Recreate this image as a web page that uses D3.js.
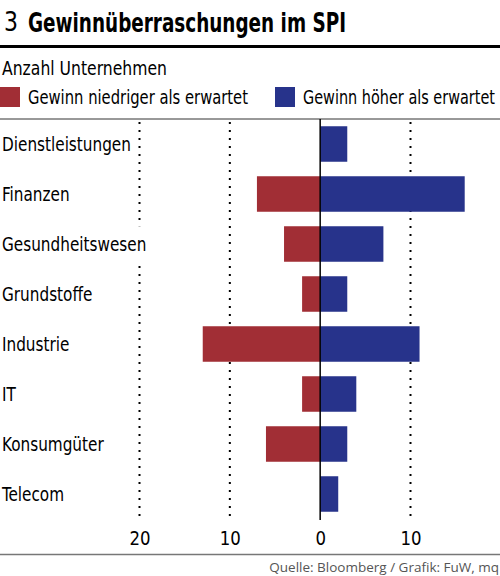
<!DOCTYPE html>
<html>
<head>
<meta charset="utf-8">
<script src="https://cdn.jsdelivr.net/npm/d3@7"></script>
<style>
  body { margin: 0; background: #fff; }
  svg { display: block; }
  .cond { font-family: "Liberation Sans Narrow", "DejaVu Sans Condensed", "DejaVu Sans", sans-serif; font-stretch: condensed; }
</style>
</head>
<body>
<svg id="chart" width="500" height="576"></svg>
<script>
const svg = d3.select("#chart");

const width = 500;
const height = 576;

// data
const categories = ["Dienstleistungen", "Finanzen", "Gesundheitswesen", "Grundstoffe",
                    "Industrie", "IT", "Konsumgüter", "Telecom"];
const lower = [0, 7, 4, 2, 13, 2, 6, 0];     // Gewinn niedriger als erwartet
const higher = [3, 16, 7, 3, 11, 4, 3, 2];   // Gewinn höher als erwartet
const tickValues = [-20, -10, 0, 10];
const seriesNames = ["Gewinn niedriger als erwartet", "Gewinn höher als erwartet"];

const RED = "#a12e35";
const BLUE = "#27338b";

// squeeze a text horizontally, the reference font is narrower
function squeeze(sel, k) {
  sel.each(function() {
    const w = this.getComputedTextLength();
    d3.select(this)
        .attr("textLength", w * k)
        .attr("lengthAdjust", "spacingAndGlyphs");
  });
}

const x = d3.scaleLinear()
    .domain([-20, 10])
    .range([139.5, 410.5]);

const y = d3.scaleBand()
    .domain(categories)
    .range([119, 519])
    .paddingInner(0.29)
    .paddingOuter(0.145);

// header
svg.append("text")
    .attr("class", "cond")
    .attr("x", 4).attr("y", 31)
    .attr("font-size", 26)
    .attr("textLength", 14)
    .attr("lengthAdjust", "spacingAndGlyphs")
    .text("3");
svg.append("text")
    .attr("class", "cond")
    .attr("x", 28).attr("y", 32)
    .attr("font-size", 27)
    .attr("font-weight", "bold")
    .attr("textLength", 318)
    .attr("lengthAdjust", "spacingAndGlyphs")
    .text("Gewinnüberraschungen im SPI");
svg.append("rect")
    .attr("x", 0).attr("y", 45)
    .attr("width", width).attr("height", 3)
    .attr("fill", "#000");

svg.append("text")
    .attr("class", "cond")
    .attr("x", 2).attr("y", 75)
    .attr("font-size", 19)
    .attr("textLength", 165)
    .attr("lengthAdjust", "spacingAndGlyphs")
    .text("Anzahl Unternehmen");

// legend
const legendX = [0, 275];
const legendLen = [220, 192];
[RED, BLUE].forEach((c, i) => {
  svg.append("rect")
      .attr("x", legendX[i]).attr("y", 87)
      .attr("width", 20).attr("height", 20)
      .attr("fill", c);
  svg.append("text")
      .attr("class", "cond")
      .attr("x", legendX[i] + 28).attr("y", 104)
      .attr("font-size", 19)
      .attr("textLength", legendLen[i])
      .attr("lengthAdjust", "spacingAndGlyphs")
      .text(seriesNames[i]);
});

svg.append("line")
    .attr("x1", 0).attr("x2", width)
    .attr("y1", 119).attr("y2", 119)
    .attr("stroke", "#333").attr("stroke-width", 1);

// dotted grid
svg.append("g")
  .selectAll("line")
  .data(tickValues.filter(d => d !== 0))
  .join("line")
    .attr("x1", d => x(d)).attr("x2", d => x(d))
    .attr("y1", 122).attr("y2", 520)
    .attr("stroke", "#000")
    .attr("stroke-width", 2)
    .attr("stroke-dasharray", "2 6");

// category labels with white knockout
const labels = svg.append("g")
  .selectAll("g")
  .data(categories)
  .join("g");
labels.append("rect")
    .attr("fill", "#fff");
labels.append("text")
    .attr("class", "cond")
    .attr("x", 2)
    .attr("y", d => y(d) + y.bandwidth() / 2 + 7)
    .attr("font-size", 19.5)
    .text(d => d)
    .call(squeeze, 0.87);
labels.each(function(d) {
  const w = +d3.select(this).select("text").attr("textLength");
  d3.select(this).select("rect")
      .attr("x", 0).attr("y", y(d))
      .attr("width", w + 6).attr("height", y.bandwidth());
});

// bars
svg.append("g")
  .selectAll("rect")
  .data(categories.map((c, i) => ({c, v: lower[i]})).filter(d => d.v > 0))
  .join("rect")
    .attr("x", d => x(-d.v))
    .attr("y", d => y(d.c))
    .attr("width", d => x(0) - x(-d.v))
    .attr("height", y.bandwidth())
    .attr("fill", RED);

svg.append("g")
  .selectAll("rect")
  .data(categories.map((c, i) => ({c, v: higher[i]})))
  .join("rect")
    .attr("x", x(0))
    .attr("y", d => y(d.c))
    .attr("width", d => x(d.v) - x(0))
    .attr("height", y.bandwidth())
    .attr("fill", BLUE);

// zero line
svg.append("line")
    .attr("x1", x(0)).attr("x2", x(0))
    .attr("y1", 119).attr("y2", 520)
    .attr("stroke", "#000").attr("stroke-width", 1.5);

// axis
const xAxis = d3.axisBottom(x)
    .tickValues(tickValues)
    .tickSize(0)
    .tickPadding(0)
    .tickFormat(d => Math.abs(d));
const ax = svg.append("g")
    .attr("transform", "translate(0,531)")
    .call(xAxis);
ax.select(".domain").remove();
ax.selectAll("text")
    .attr("class", "cond")
    .attr("font-size", 20)
    .attr("fill", "#000")
    .call(squeeze, 0.92);

svg.append("line")
    .attr("x1", 0).attr("x2", width)
    .attr("y1", 554.5).attr("y2", 554.5)
    .attr("stroke", "#777").attr("stroke-width", 1.5);

svg.append("text")
    .attr("x", 499).attr("y", 572)
    .attr("text-anchor", "end")
    .attr("font-family", "'Open Sans', sans-serif")
    .attr("font-size", 13.5)
    .attr("fill", "#555")
    .text("Quelle: Bloomberg / Grafik: FuW, mq");
</script>
</body>
</html>
